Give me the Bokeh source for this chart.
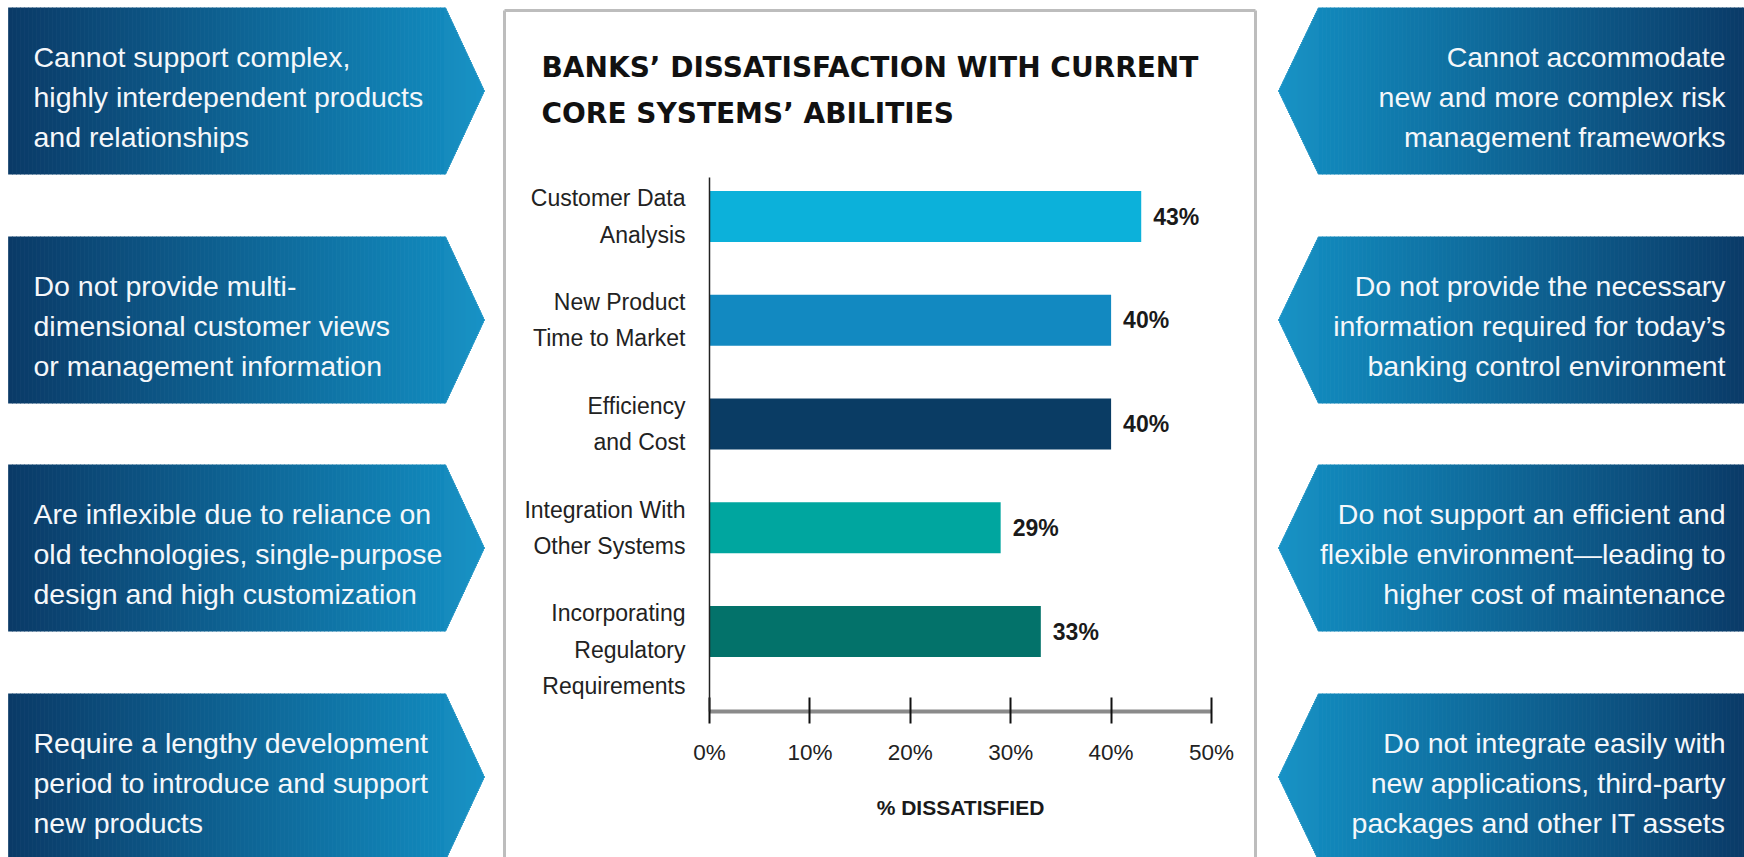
import numpy as np
from bokeh.plotting import figure
from bokeh.models import Range1d, FixedTicker, ColumnDataSource
from bokeh.core.properties import value
from bokeh.embed import file_html
from bokeh.resources import INLINE

# ---------------- data ----------------
categories = [
    "Customer Data\nAnalysis",
    "New Product\nTime to Market",
    "Efficiency\nand Cost",
    "Integration With\nOther Systems",
    "Incorporating\nRegulatory\nRequirements",
]
dissatisfied = [43, 40, 40, 29, 33]
value_labels = ["43%", "40%", "40%", "29%", "33%"]
bar_colors = ["#0cb1da", "#1289c1", "#0a3c64", "#00a69f", "#03726a"]
x_ticks = [0, 10, 20, 30, 40, 50]
x_tick_labels = ["0%", "10%", "20%", "30%", "40%", "50%"]
title_lines = ["BANKS\u2019 DISSATISFACTION WITH CURRENT", "CORE SYSTEMS\u2019 ABILITIES"]
x_axis_title = "% DISSATISFIED"
left_notes = [
    "Cannot support complex,\nhighly interdependent products\nand relationships",
    "Do not provide multi-\ndimensional customer views\nor management information",
    "Are inflexible due to reliance on\nold technologies, single-purpose\ndesign and high customization",
    "Require a lengthy development\nperiod to introduce and support\nnew products",
]
right_notes = [
    "Cannot accommodate\nnew and more complex risk\nmanagement frameworks",
    "Do not provide the necessary\ninformation required for today\u2019s\nbanking control environment",
    "Do not support an efficient and\nflexible environment\u2014leading to\nhigher cost of maintenance",
    "Do not integrate easily with\nnew applications, third-party\npackages and other IT assets",
]

SANS = "Liberation Sans"
TITLE_FONT = "DejaVu Sans"

W, H = 1744, 857
FL, FR, FT, FB = 709, 1211, 177, 711   # frame edges in page pixels

positions = list(range(len(categories), 0, -1))  # 5 .. 1, top to bottom

p = figure(width=W, height=H, output_backend="svg", toolbar_location=None,
           x_range=Range1d(0, 50), y_range=Range1d(0.229, 5.376),
           min_border_left=FL, min_border_right=W - FR,
           min_border_top=FT, min_border_bottom=H - FB,
           background_fill_color="white", border_fill_color="white")
p.outline_line_color = None
p.grid.visible = False
p.extra_x_ranges = {"px": Range1d(FL, FR)}
p.extra_y_ranges = {"px": Range1d(FB, FT)}

# ---------------- decorations (page-pixel coordinates) ----------------
def lerp_color(c0, c1, t):
    a = [int(c0[i:i + 2], 16) for i in (1, 3, 5)]
    b = [int(c1[i:i + 2], 16) for i in (1, 3, 5)]
    return "#%02x%02x%02x" % tuple(int(round(a[k] + (b[k] - a[k]) * t)) for k in range(3))

DARK, LIGHT = "#0a3a67", "#1290c4"
arrow_h = 167
arrow_tops = [7, 236, 464, 693]

sx, sy, sc, sw = [], [], [], []

def add_arrow(top, pointing_right):
    bot = top + arrow_h
    mid = (top + bot) / 2
    if pointing_right:
        x0, xb, xt = 8, 445, 484
        lo, hi = x0, xt
        def edge(x):
            if x <= xb:
                return top, bot
            f = (x - xb) / (xt - xb)
            return top + f * (mid - top), bot - f * (bot - mid)
        strips = [(a, min(a + 4.0, xb)) for a in np.arange(x0, xb, 4.0)] + \
                 [(a, a + 1.0) for a in np.arange(xb, xt, 1.0)]
    else:
        xt, xb, x1 = 1278, 1318, 1748
        lo, hi = xt, x1
        def edge(x):
            if x >= xb:
                return top, bot
            f = (xb - x) / (xb - xt)
            return top + f * (mid - top), bot - f * (bot - mid)
        strips = [(a, a + 1.0) for a in np.arange(xt, xb, 1.0)] + \
                 [(a, min(a + 4.0, x1)) for a in np.arange(xb, x1, 4.0)]
    for a, b in strips:
        xc = (a + b) / 2
        tt, bb = edge(xc)
        sx.append([xc, xc])
        sy.append([tt, bb])
        sw.append((b - a) + 0.7)
        t = (xc - lo) / (hi - lo)
        sc.append(lerp_color(DARK, LIGHT, t) if pointing_right else lerp_color(LIGHT, DARK, t))

for t in arrow_tops:
    add_arrow(t, True)
    add_arrow(t, False)

r = p.multi_line(xs="xs", ys="ys", line_color="c", line_width="w",
                 source=ColumnDataSource(dict(xs=sx, ys=sy, c=sc, w=sw)),
                 x_range_name="px", y_range_name="px")
r.level = "overlay"

# chart frame box
r = p.multi_line([[504, 504], [504, 1255], [1255, 1255]], [[870, 10], [10, 10], [10, 870]],
                 line_color="#bdbdbd", line_width=3, x_range_name="px", y_range_name="px")
r.level = "overlay"

# ---------------- bars ----------------
src = ColumnDataSource(dict(y=positions, v=dissatisfied, c=bar_colors, lab=value_labels))
p.hbar(y="y", right="v", left=0, height=0.49, fill_color="c", line_color=None, source=src)
p.text(x="v", y="y", text="lab", source=src, x_offset=12, text_baseline="middle",
       text_align="left", text_font=value(SANS), text_font_style="bold",
       text_font_size="23px", text_color="#1a1a1a")

# ---------------- axes ----------------
xa = p.xaxis[0]
xa.ticker = FixedTicker(ticks=x_ticks)
xa.major_label_overrides = {t: l for t, l in zip(x_ticks, x_tick_labels)}
xa.minor_tick_line_color = None
xa.axis_line_color = "#8a8a8a"
xa.axis_line_width = 4
xa.major_tick_line_color = "#111111"
xa.major_tick_line_width = 2
xa.major_tick_in = 14
xa.major_tick_out = 12
xa.major_label_standoff = 16
xa.major_label_text_font = SANS
xa.major_label_text_font_size = "22.5px"
xa.major_label_text_color = "#222222"
xa.axis_label = x_axis_title
xa.axis_label_text_font = SANS
xa.axis_label_text_font_style = "bold"
xa.axis_label_text_font_size = "21px"
xa.axis_label_text_color = "#1a1a1a"
xa.axis_label_standoff = 28

# the three-line label sits a half line lower in the original, hence the leading blank line
label_text = {pos: (("\n" + c) if c.count("\n") >= 2 else c) for pos, c in zip(positions, categories)}
ya = p.yaxis[0]
ya.ticker = FixedTicker(ticks=positions)
ya.major_label_overrides = label_text
ya.minor_tick_line_color = None
ya.major_tick_line_color = None
ya.major_tick_in = 0
ya.major_tick_out = 0
ya.major_label_standoff = 24
ya.axis_line_color = "#222222"
ya.axis_line_width = 1.5
ya.major_label_text_font = SANS
ya.major_label_text_font_size = "23px"
ya.major_label_text_color = "#222222"
ya.major_label_text_line_height = 1.4

# arrow texts
line_gap = 40
def note_lines(notes, x):
    tx, ty, tt = [], [], []
    for i, note in enumerate(notes):
        center = arrow_tops[i] + arrow_h / 2
        lines = note.split("\n")
        n = len(lines)
        for j, ln in enumerate(lines):
            tx.append(x)
            ty.append(center + 6 + (j - (n - 1) / 2) * line_gap)
            tt.append(ln)
    return dict(x=tx, y=ty, t=tt)

r = p.text(x="x", y="y", text="t", source=ColumnDataSource(note_lines(left_notes, 33)),
           text_align="left", text_baseline="alphabetic", text_font=value(SANS),
           text_font_size="28.5px", text_color="#f5f7fa", x_range_name="px", y_range_name="px")
r.level = "overlay"
r = p.text(x="x", y="y", text="t", source=ColumnDataSource(note_lines(right_notes, 1725)),
           text_align="right", text_baseline="alphabetic", text_font=value(SANS),
           text_font_size="28.5px", text_color="#f5f7fa", x_range_name="px", y_range_name="px")
r.level = "overlay"

# chart title
r = p.text(x=[541, 541], y=[66.5, 112.5], text=title_lines, text_align="left",
           text_baseline="alphabetic", text_font=value(TITLE_FONT), text_font_style="bold",
           text_font_size="28px", text_color="#111111", x_range_name="px", y_range_name="px")
r.level = "overlay"

open("out.html", "w").write(file_html(p, INLINE))
